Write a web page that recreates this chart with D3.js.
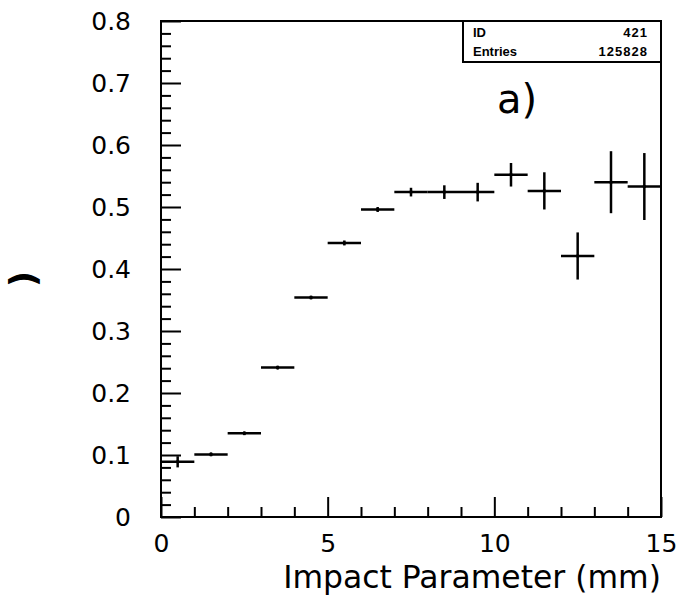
<!DOCTYPE html>
<html>
<head>
<meta charset="utf-8">
<script src="https://cdn.jsdelivr.net/npm/d3@7"></script>
<style>
  html, body { margin: 0; padding: 0; background: #fff; }
  svg { display: block; }
  .tick-label { font-family: "DejaVu Sans", sans-serif; font-size: 25px; fill: #000; }
</style>
</head>
<body>
<svg id="chart" width="684" height="607"></svg>
<script>
// Histogram bins: impact parameter bin centres (mm), contents and statistical errors
const binCenters = [0.5, 1.5, 2.5, 3.5, 4.5, 5.5, 6.5, 7.5, 8.5, 9.5, 10.5, 11.5, 12.5, 13.5, 14.5];
const binValues  = [0.089, 0.101, 0.135, 0.241, 0.354, 0.442, 0.496, 0.524, 0.524, 0.524, 0.552, 0.526, 0.421, 0.540, 0.533];
const binErrors  = [0.009, 0.003, 0.003, 0.003, 0.003, 0.004, 0.004, 0.007, 0.011, 0.015, 0.019, 0.030, 0.038, 0.050, 0.054];
const binHalfWidth = 0.5;

// Axis ticks and labels
const xMajorTicks = [0, 5, 10, 15];
const xMajorLabels = ["0", "5", "10", "15"];
const xMinorTicks = [1, 2, 3, 4, 6, 7, 8, 9, 11, 12, 13, 14];
const yMajorTicks = [0, 0.1, 0.2, 0.3, 0.4, 0.5, 0.6, 0.7, 0.8];
const yMajorLabels = ["0", "0.1", "0.2", "0.3", "0.4", "0.5", "0.6", "0.7", "0.8"];
const yMinorTicks = [0.02, 0.04, 0.06, 0.08, 0.12, 0.14, 0.16, 0.18, 0.22, 0.24, 0.26, 0.28,
                     0.32, 0.34, 0.36, 0.38, 0.42, 0.44, 0.46, 0.48, 0.52, 0.54, 0.56, 0.58,
                     0.62, 0.64, 0.66, 0.68, 0.72, 0.74, 0.76, 0.78];

// Statistics box
const statNames = ["ID", "Entries"];
const statValues = ["421", "125828"];

const xTitle = "Impact Parameter (mm)";
const panelLabel = "a)";
const yTitle = ")";

const svg = d3.select("#chart");
const plotL = 161, plotR = 661, plotT = 21, plotB = 517;

const x = d3.scaleLinear().domain([0, 15]).range([plotL, plotR]);
const y = d3.scaleLinear().domain([0, 0.8]).range([plotB, plotT]);

// Inward-pointing minor and major ticks
function styleAxis(g) {
  g.select(".domain").remove();
  g.selectAll(".tick line").attr("stroke", "#000").attr("stroke-width", 2);
  g.selectAll(".tick text").attr("class", "tick-label").attr("font-family", null).attr("font-size", null);
}

svg.append("g").attr("transform", `translate(${plotL},0)`)
  .call(d3.axisLeft(y).tickValues(yMinorTicks).tickSize(-10).tickFormat(""))
  .call(styleAxis);
svg.append("g").attr("transform", `translate(${plotL},0)`)
  .call(d3.axisLeft(y).tickValues(yMajorTicks).tickSize(-20).tickPadding(30)
        .tickFormat((d, i) => yMajorLabels[i]))
  .call(styleAxis);

svg.append("g").attr("transform", `translate(0,${plotB})`)
  .call(d3.axisBottom(x).tickValues(xMinorTicks).tickSize(-10).tickFormat(""))
  .call(styleAxis);
svg.append("g").attr("transform", `translate(0,${plotB})`)
  .call(d3.axisBottom(x).tickValues(xMajorTicks).tickSize(-20).tickPadding(17)
        .tickFormat((d, i) => xMajorLabels[i]))
  .call(styleAxis);

// Frame
svg.append("rect")
  .attr("x", plotL).attr("y", plotT)
  .attr("width", plotR - plotL).attr("height", plotB - plotT)
  .attr("fill", "none").attr("stroke", "#000").attr("stroke-width", 2);

// Histogram points with bin-width and error bars
const pts = svg.append("g").attr("stroke", "#000").attr("stroke-width", 2.5);
binCenters.forEach((c, i) => {
  pts.append("line")
    .attr("x1", x(c - binHalfWidth)).attr("x2", x(c + binHalfWidth))
    .attr("y1", y(binValues[i])).attr("y2", y(binValues[i]));
  pts.append("line")
    .attr("x1", x(c)).attr("x2", x(c))
    .attr("y1", y(binValues[i] - binErrors[i])).attr("y2", y(binValues[i] + binErrors[i]));
  pts.append("circle")
    .attr("cx", x(c)).attr("cy", y(binValues[i])).attr("r", 1.8)
    .attr("fill", "#000").attr("stroke", "none");
});

// Statistics box in the top-right corner
const boxX0 = 463, boxX1 = plotR, boxY0 = plotT, boxY1 = 62;
svg.append("rect")
  .attr("x", boxX0).attr("y", boxY0)
  .attr("width", boxX1 - boxX0).attr("height", boxY1 - boxY0)
  .attr("fill", "#fff").attr("stroke", "#000").attr("stroke-width", 2);
statNames.forEach((name, i) => {
  const by = 37 + i * 19;
  svg.append("text").attr("x", 473).attr("y", by)
    .attr("font-family", "'Liberation Sans', Arial, sans-serif").attr("font-weight", "bold")
    .attr("font-size", 13).text(name);
  svg.append("text").attr("x", 648).attr("y", by).attr("text-anchor", "end")
    .attr("font-family", "'Liberation Sans', Arial, sans-serif").attr("font-weight", "bold")
    .attr("font-size", 13).attr("letter-spacing", 1).text(statValues[i]);
});

// Panel label
svg.append("text").attr("x", 497).attr("y", 113)
  .attr("font-family", "'DejaVu Sans', sans-serif").attr("font-size", 40)
  .text(panelLabel);

// X-axis title, right-aligned with the frame
const xt = svg.append("text").attr("x", plotR).attr("y", 588)
  .attr("text-anchor", "end")
  .attr("font-family", "'DejaVu Sans', sans-serif").attr("font-size", 24)
  .text(xTitle);
const wantW = 378;
const gotW = xt.node().getComputedTextLength();
xt.attr("font-size", 24 * wantW / gotW);

// Y-axis title
svg.append("text")
  .attr("transform", "translate(23,279) rotate(-90)")
  .attr("text-anchor", "middle").attr("dy", "0.32em")
  .attr("font-family", "'DejaVu Sans', sans-serif").attr("font-weight", "bold")
  .attr("font-size", 36)
  .text(yTitle);
</script>
</body>
</html>
